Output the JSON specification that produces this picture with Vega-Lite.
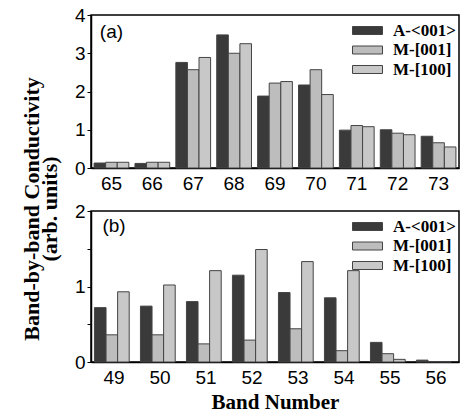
{
  "$schema": "https://vega.github.io/schema/vega-lite/v6.json",
  "padding": {"left": 20, "top": 5, "right": 0, "bottom": 2},
  "background": "white",
  "title": {
    "text": ["Band-by-band Conductivity", "(arb. units)"],
    "orient": "left",
    "anchor": "middle",
    "font": "Liberation Serif",
    "fontSize": 22,
    "fontWeight": "bold",
    "lineHeight": 18,
    "color": "black",
    "offset": 12
  },
  "config": {
    "view": {"stroke": "black", "strokeWidth": 1.5},
    "axis": {
      "domainColor": "black",
      "domainWidth": 1.5,
      "tickColor": "black",
      "labelFont": "Liberation Sans",
      "labelFontSize": 19,
      "labelColor": "black",
      "labelOverlap": false,
      "grid": false
    },
    "legend": {
      "labelFont": "Liberation Serif",
      "labelFontWeight": "bold",
      "labelFontSize": 17,
      "labelColor": "black",
      "symbolType": "M-7.5,-1H0V1H-7.5Z",
      "symbolSize": 64,
      "symbolStrokeColor": "#444",
      "symbolStrokeWidth": 1,
      "symbolOpacity": 1,
      "rowPadding": 1.5,
      "labelOffset": 2,
      "padding": 0,
      "orient": "none",
      "legendX": 283,
      "legendY": 7
    }
  },
  "datasets": {
    "a": [
      {"band": 65, "series": "A-<001>", "value": 0.13},
      {"band": 65, "series": "M-[001]", "value": 0.15},
      {"band": 65, "series": "M-[100]", "value": 0.15},
      {"band": 66, "series": "A-<001>", "value": 0.12},
      {"band": 66, "series": "M-[001]", "value": 0.15},
      {"band": 66, "series": "M-[100]", "value": 0.15},
      {"band": 67, "series": "A-<001>", "value": 2.76},
      {"band": 67, "series": "M-[001]", "value": 2.57},
      {"band": 67, "series": "M-[100]", "value": 2.89},
      {"band": 68, "series": "A-<001>", "value": 3.48},
      {"band": 68, "series": "M-[001]", "value": 3.0},
      {"band": 68, "series": "M-[100]", "value": 3.25},
      {"band": 69, "series": "A-<001>", "value": 1.88},
      {"band": 69, "series": "M-[001]", "value": 2.22},
      {"band": 69, "series": "M-[100]", "value": 2.26},
      {"band": 70, "series": "A-<001>", "value": 2.17},
      {"band": 70, "series": "M-[001]", "value": 2.57},
      {"band": 70, "series": "M-[100]", "value": 1.92},
      {"band": 71, "series": "A-<001>", "value": 0.99},
      {"band": 71, "series": "M-[001]", "value": 1.11},
      {"band": 71, "series": "M-[100]", "value": 1.08},
      {"band": 72, "series": "A-<001>", "value": 1.0},
      {"band": 72, "series": "M-[001]", "value": 0.91},
      {"band": 72, "series": "M-[100]", "value": 0.87},
      {"band": 73, "series": "A-<001>", "value": 0.83},
      {"band": 73, "series": "M-[001]", "value": 0.66},
      {"band": 73, "series": "M-[100]", "value": 0.55}
    ],
    "b": [
      {"band": 49, "series": "A-<001>", "value": 0.72},
      {"band": 49, "series": "M-[001]", "value": 0.36},
      {"band": 49, "series": "M-[100]", "value": 0.93},
      {"band": 50, "series": "A-<001>", "value": 0.74},
      {"band": 50, "series": "M-[001]", "value": 0.36},
      {"band": 50, "series": "M-[100]", "value": 1.02},
      {"band": 51, "series": "A-<001>", "value": 0.8},
      {"band": 51, "series": "M-[001]", "value": 0.24},
      {"band": 51, "series": "M-[100]", "value": 1.21},
      {"band": 52, "series": "A-<001>", "value": 1.15},
      {"band": 52, "series": "M-[001]", "value": 0.29},
      {"band": 52, "series": "M-[100]", "value": 1.49},
      {"band": 53, "series": "A-<001>", "value": 0.92},
      {"band": 53, "series": "M-[001]", "value": 0.44},
      {"band": 53, "series": "M-[100]", "value": 1.33},
      {"band": 54, "series": "A-<001>", "value": 0.85},
      {"band": 54, "series": "M-[001]", "value": 0.15},
      {"band": 54, "series": "M-[100]", "value": 1.21},
      {"band": 55, "series": "A-<001>", "value": 0.26},
      {"band": 55, "series": "M-[001]", "value": 0.11},
      {"band": 55, "series": "M-[100]", "value": 0.035},
      {"band": 56, "series": "A-<001>", "value": 0.025},
      {"band": 56, "series": "M-[001]", "value": 0.006},
      {"band": 56, "series": "M-[100]", "value": 0.002}
    ]
  },
  "spacing": 7,
  "resolve": {"scale": {"color": "independent"}, "legend": {"color": "independent"}},
  "vconcat": [
    {
      "width": 368,
      "height": 153,
      "layer": [
        {
          "data": {"name": "a"},
          "mark": {"type": "bar", "stroke": "#444", "strokeWidth": 1},
          "encoding": {
            "x": {"field": "band", "type": "ordinal", "scale": {"paddingInner": 0.15, "paddingOuter": 0.075},
                  "axis": {"title": null, "labelAngle": 0, "ticks": false, "labelPadding": 6}},
            "xOffset": {"field": "series", "type": "nominal", "sort": ["A-<001>", "M-[001]", "M-[100]"]},
            "y": {"field": "value", "type": "quantitative", "scale": {"domain": [0, 4], "nice": false},
                  "axis": {"title": null, "values": [0, 1, 2, 3, 4], "format": "d", "labelOverlap": false, "labelSeparation": 0, "tickSize": 4, "labelPadding": 2}},
            "color": {"field": "series", "type": "nominal",
                      "scale": {"domain": ["A-<001>", "M-[001]", "M-[100]"], "range": ["#3a3a3a", "#bdbdbd", "#c8c8c8"]},
                      "legend": {"title": null}}
          }
        },
        {
          "data": {"values": [{"label": "(a)"}]},
          "mark": {"type": "text", "font": "Liberation Sans", "fontSize": 19, "color": "black"},
          "encoding": {
            "text": {"field": "label"},
            "x": {"datum": 65, "type": "ordinal", "axis": {"title": null, "labelAngle": 0, "ticks": false, "labelPadding": 6}},
            "y": {"datum": 3.55, "type": "quantitative",
                  "axis": {"title": null, "values": [0, 1, 2, 3, 4], "format": "d", "labelOverlap": false, "labelSeparation": 0, "tickSize": 4, "labelPadding": 2}}
          }
        }
      ]
    },
    {
      "width": 368,
      "height": 151,
      "layer": [
        {
          "data": {"name": "b"},
          "mark": {"type": "bar", "stroke": "#444", "strokeWidth": 1},
          "encoding": {
            "x": {"field": "band", "type": "ordinal", "scale": {"paddingInner": 0.15, "paddingOuter": 0.075},
                  "axis": {"title": "Band Number", "titleFont": "Liberation Serif", "titleFontSize": 21, "titleFontWeight": "bold", "titleColor": "black", "titlePadding": 4, "labelAngle": 0, "ticks": false, "labelPadding": 6}},
            "xOffset": {"field": "series", "type": "nominal", "sort": ["A-<001>", "M-[001]", "M-[100]"]},
            "y": {"field": "value", "type": "quantitative", "scale": {"domain": [0, 2], "nice": false},
                  "axis": {"title": null, "values": [0, 0.5, 1, 1.5, 2], "labelExpr": "datum.value % 1 === 0 ? format(datum.value, 'd') : ''", "labelOverlap": false, "labelSeparation": 0, "tickSize": 4, "labelPadding": 2}},
            "color": {"field": "series", "type": "nominal",
                      "scale": {"domain": ["A-<001>", "M-[001]", "M-[100]"], "range": ["#3a3a3a", "#bdbdbd", "#c8c8c8"]},
                      "legend": {"title": null}}
          }
        },
        {
          "data": {"values": [{"label": "(b)"}]},
          "mark": {"type": "text", "font": "Liberation Sans", "fontSize": 19, "color": "black"},
          "encoding": {
            "text": {"field": "label"},
            "x": {"datum": 49, "type": "ordinal", "axis": {"title": "Band Number", "titleFont": "Liberation Serif", "titleFontSize": 21, "titleFontWeight": "bold", "titleColor": "black", "titlePadding": 4, "labelAngle": 0, "ticks": false, "labelPadding": 6}},
            "y": {"datum": 1.8, "type": "quantitative",
                  "axis": {"title": null, "values": [0, 0.5, 1, 1.5, 2], "labelExpr": "datum.value % 1 === 0 ? format(datum.value, 'd') : ''", "labelOverlap": false, "labelSeparation": 0, "tickSize": 4, "labelPadding": 2}}
          }
        }
      ]
    }
  ]
}
